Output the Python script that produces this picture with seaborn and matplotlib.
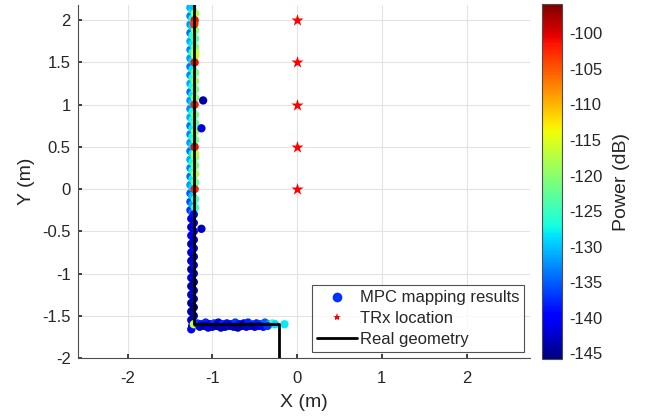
import numpy as np
import seaborn as sns
import matplotlib
matplotlib.use("Agg")
import matplotlib.pyplot as plt
from matplotlib.lines import Line2D

# MPC mapping results: x (m), y (m), power (dB)
# upper wall, left edge (bluish)
colA_x = [-1.26] * 25
colA_y = [2.15, 2.05, 1.95, 1.85, 1.75, 1.65, 1.55, 1.45, 1.35, 1.25, 1.15, 1.05, 0.95,
          0.85, 0.75, 0.65, 0.55, 0.45, 0.35, 0.25, 0.15, 0.05, -0.05, -0.15, -0.25]
colA_p = [-131, -133, -132, -134, -131, -133, -132, -134, -133, -131, -134, -132, -133,
          -131, -134, -133, -132, -134, -131, -133, -134, -132, -135, -136, -137]
# upper wall, middle (cyan)
colB_x = [-1.235] * 25
colB_y = [2.12, 2.02, 1.92, 1.82, 1.72, 1.62, 1.52, 1.42, 1.32, 1.22, 1.12, 1.02, 0.92,
          0.82, 0.72, 0.62, 0.52, 0.42, 0.32, 0.22, 0.12, 0.02, -0.08, -0.18, -0.28]
colB_p = [-128, -127, -129, -126, -128, -127, -129, -128, -126, -127, -128, -129, -127,
          -126, -128, -127, -129, -128, -127, -126, -128, -129, -130, -131, -133]
# upper wall, right edge (green / yellow)
colC_x = [-1.205] * 22
colC_y = [2.08, 1.98, 1.88, 1.78, 1.68, 1.58, 1.38, 1.28, 1.18, 1.08, 0.88, 0.78, 0.68,
          0.58, 0.38, 0.28, 0.18, 0.08, -0.12, -0.22, 1.62, 0.42]
colC_p = [-118, -122, -120, -123, -121, -117, -121, -119, -122, -120, -121, -123, -119,
          -122, -120, -121, -118, -122, -124, -125, -116, -117]
# reflection peaks (red)
red_x = [-1.21, -1.21, -1.21, -1.21, -1.21, -1.215]
red_y = [2.0, 1.5, 1.0, 0.5, 0.0, 1.95]
red_p = [-101, -101, -102, -101, -102, -103]
# lower wall (dark blue)
colD_x = [-1.25] * 13 + [-1.22] * 13
colD_y = [-0.35, -0.45, -0.55, -0.65, -0.75, -0.85, -0.95, -1.05, -1.15, -1.25, -1.35, -1.45, -1.55,
          -0.3, -0.4, -0.5, -0.6, -0.7, -0.8, -0.9, -1.0, -1.1, -1.2, -1.3, -1.4, -1.5]
colD_p = [-142, -143, -141, -144, -142, -143, -145, -142, -144, -143, -145, -144, -143,
          -139, -141, -140, -142, -140, -143, -141, -142, -144, -142, -143, -145, -144]
# corner and horizontal wall
colH_x = [-1.24, -1.25, -1.22, -1.18, -1.13, -1.08, -1.03, -0.98, -0.93, -0.88, -0.83, -0.78,
          -0.73, -0.68, -0.63, -0.58, -0.53, -0.48, -0.43, -0.38, -0.33, -0.29,
          -1.15, -1.1, -1.05, -1.0, -0.95, -0.9, -0.85, -0.8, -0.75, -0.7, -0.65, -0.6,
          -0.55, -0.5, -0.45, -0.4, -0.35, -0.26, -0.15]
colH_y = [-1.62, -1.66, -1.6, -1.59, -1.6, -1.58, -1.6, -1.59, -1.58, -1.6, -1.59, -1.6,
          -1.58, -1.6, -1.59, -1.58, -1.6, -1.59, -1.6, -1.58, -1.6, -1.59,
          -1.63, -1.62, -1.64, -1.63, -1.62, -1.64, -1.63, -1.62, -1.63, -1.64, -1.62, -1.63,
          -1.62, -1.63, -1.62, -1.63, -1.62, -1.6, -1.6]
colH_p = [-141, -140, -116, -137, -139, -138, -140, -137, -141, -138, -139, -140,
          -137, -139, -141, -138, -136, -138, -137, -135, -131, -124,
          -143, -144, -142, -143, -145, -143, -144, -142, -143, -144, -145, -143,
          -142, -144, -141, -139, -137, -129, -128]
# outliers
out_x = [-1.11, -1.13, -1.13, -1.24]
out_y = [1.05, 0.72, -0.47, 2.17]
out_p = [-144, -142, -143, -130]

mpc_x = colA_x + colB_x + colC_x + colD_x + colH_x + out_x + red_x
mpc_y = colA_y + colB_y + colC_y + colD_y + colH_y + out_y + red_y
mpc_p = colA_p + colB_p + colC_p + colD_p + colH_p + out_p + red_p

# TRx locations
trx_x = [0, 0, 0, 0, 0]
trx_y = [0, 0.5, 1.0, 1.5, 2.0]

# real geometry
geo_x = [-1.22, -1.22, -0.22, -0.22]
geo_y = [2.18, -1.6, -1.6, -2.0]

vmin, vmax = -145.8, -95.9
jet = plt.get_cmap("jet")

sns.set_theme(style="ticks")
plt.rcParams['font.family'] = ['Liberation Sans', 'DejaVu Sans']
plt.rcParams['axes.unicode_minus'] = False

fig = plt.figure(figsize=(6.48, 4.2), dpi=100)
ax = fig.add_axes([0.120, 0.1476, 0.698, 0.8405])

sns.scatterplot(x=mpc_x, y=mpc_y, hue=mpc_p, palette=jet, hue_norm=(vmin, vmax),
                s=36, linewidth=0, legend=False, ax=ax, zorder=2)
ax.plot(geo_x, geo_y, color="black", lw=2, zorder=3)
ax.scatter(trx_x, trx_y, marker="*", color="red", s=85, linewidth=0, zorder=4)

ax.set_xlim(-2.59, 2.75)
ax.set_ylim(-2, 2.18)
ax.set_xticks([-2, -1, 0, 1, 2])
ax.set_yticks([-2, -1.5, -1, -0.5, 0, 0.5, 1, 1.5, 2])
ax.set_yticklabels(["-2", "-1.5", "-1", "-0.5", "0", "0.5", "1", "1.5", "2"])
ax.grid(True, color="#e3e3e3", lw=0.8)
ax.set_axisbelow(True)
for s in ["top", "right"]:
    ax.spines[s].set_visible(False)
for s in ["left", "bottom"]:
    ax.spines[s].set_color("#4d4d4d")
    ax.spines[s].set_linewidth(0.8)
ax.tick_params(direction="in", length=3, labelsize=12, colors="#262626")
ax.tick_params(axis="x", pad=9)
ax.tick_params(axis="y", pad=5)
ax.set_xlabel("X (m)", fontsize=14, color="#262626", labelpad=6)
ax.set_ylabel("Y (m)", fontsize=14, color="#262626", labelpad=5)

handles = [
    Line2D([], [], marker="o", color="none", markerfacecolor="#0033ff", markeredgewidth=0, markersize=7),
    Line2D([], [], marker="*", color="none", markerfacecolor="red", markeredgewidth=0, markersize=6),
    Line2D([], [], color="black", lw=2),
]
leg = ax.legend(handles, ["MPC mapping results", "TRx location", "Real geometry"],
                loc="lower right", bbox_to_anchor=(0.987, 0.017), borderaxespad=0,
                fontsize=12, frameon=True, fancybox=False, handlelength=2.4,
                handletextpad=0.15, labelspacing=0.35, borderpad=0.3)
leg.get_frame().set_edgecolor("#262626")
leg.get_frame().set_linewidth(0.8)

cax = fig.add_axes([0.836, 0.145, 0.031, 0.845])
sm = plt.cm.ScalarMappable(cmap=jet, norm=plt.Normalize(vmin, vmax))
cb = fig.colorbar(sm, cax=cax)
cb.set_ticks(list(range(-145, -99, 5)))
cb.outline.set_edgecolor("#4d4d4d")
cb.outline.set_linewidth(0.8)
cax.tick_params(direction="in", length=3, labelsize=12, colors="#262626", pad=5)
cb.set_label("Power (dB)", fontsize=14, color="#262626", labelpad=8)

fig.savefig("out.png", dpi=100)
